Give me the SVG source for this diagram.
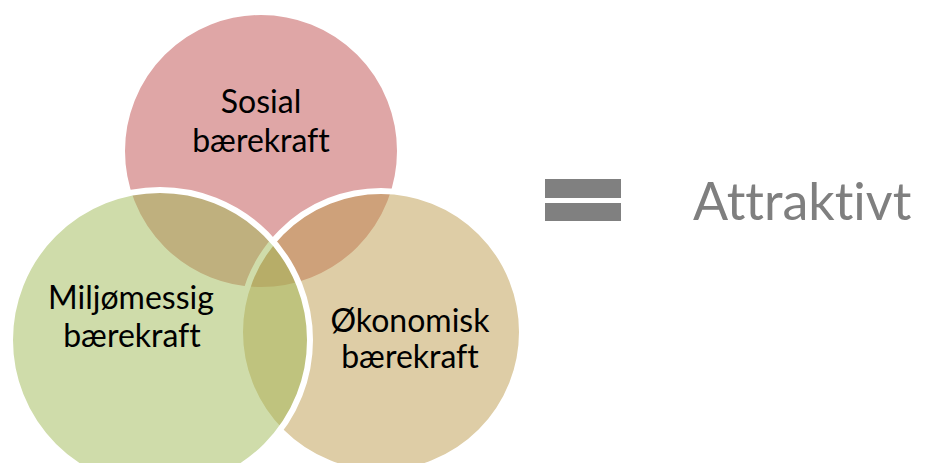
<svg xmlns="http://www.w3.org/2000/svg" width="926" height="463" viewBox="0 0 926 463">
<style>
.lbl{font-family:Lato,"Open Sans",sans-serif;font-size:32px;fill:#000;text-anchor:middle;font-variant-ligatures:none}
.big{font-family:Lato,"Open Sans",sans-serif;font-size:52px;fill:#7f7f7f;font-variant-ligatures:none}
.c{stroke:#fff;stroke-width:6}
</style>
<rect width="926" height="463" fill="#fff"/>
<g id="sosial">
<circle class="c" cx="261" cy="151" r="139" fill="#dfa6a6"/>
<text class="lbl" x="261" y="113">Sosial</text>
<text class="lbl" x="261" y="152">bærekraft</text>
</g>
<g id="okonomisk">
<circle class="c" cx="381" cy="332" r="141" fill="#bd9b4d" fill-opacity="0.5"/>
</g>
<g id="miljo">
<circle class="c" cx="160" cy="340" r="150" fill="#9fb955" fill-opacity="0.5"/>
<text class="lbl" x="131" y="309">Miljømessig</text>
<text class="lbl" x="132" y="347">bærekraft</text>
</g>
<g id="okonomisk-label">
<text class="lbl" x="410" y="332">Økonomisk</text>
<text class="lbl" x="410" y="368">bærekraft</text>
</g>
<g id="equals">
<rect x="545" y="179" width="76" height="19" fill="#808080"/>
<rect x="545" y="203" width="76" height="18" fill="#808080"/>
</g>
<g id="attraktivt">
<text class="big" x="693" y="220">Attraktivt</text>
</g>
</svg>
